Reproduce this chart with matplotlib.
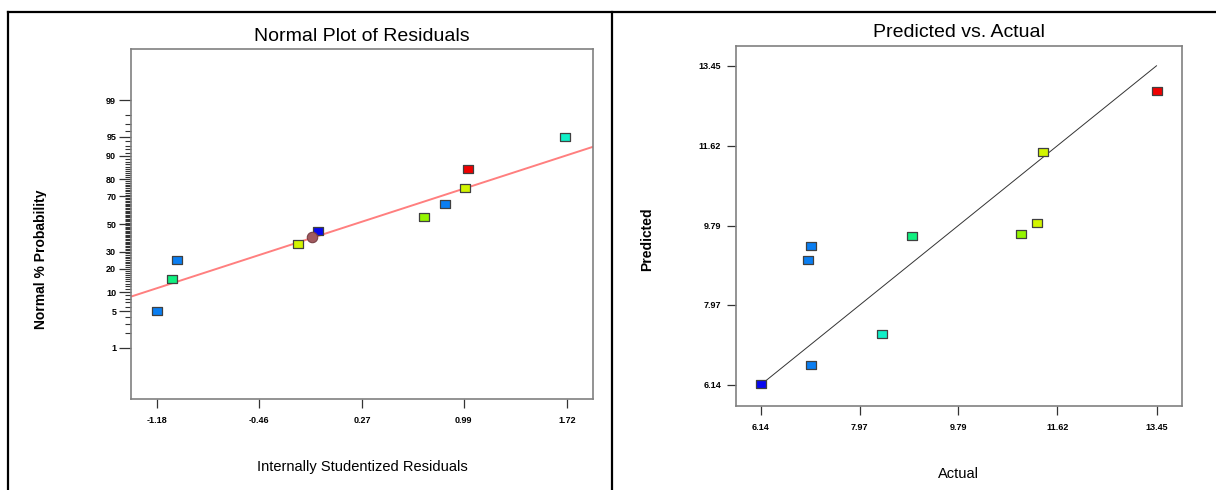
import numpy as np
import matplotlib
matplotlib.use("Agg")
import matplotlib.pyplot as plt
from matplotlib.lines import Line2D
from matplotlib.transforms import Bbox, TransformedBbox
from statistics import NormalDist

plt.rcParams["font.family"] = ["Liberation Sans", "DejaVu Sans"]

# normal plot of residuals
residuals = [-1.18, -1.076, -1.04, -0.184, -0.044, 0.71, 0.861, 1.001, 1.017, 1.706]
normal_pct = [5, 15, 25, 35, 45, 55, 65, 75, 85, 95]
residual_colors = ["#0a7ef2", "#10f080", "#0a7ef2", "#d2f500", "#0808f0",
                   "#94f500", "#0a7ef2", "#d2f500", "#f00000", "#10f0c8"]
center_point = (-0.083, 40)
fit_intercept = -0.19
fit_slope = 0.862
x_ticks_left = [-1.18, -0.46, 0.27, 0.99, 1.72]
y_ticks_pct = [1, 5, 10, 20, 30, 50, 70, 80, 90, 95, 99]

# predicted vs actual
actual = [6.14, 7.075, 7.075, 7.011, 8.374, 8.924, 10.944, 11.244, 11.344, 13.45]
predicted = [6.155, 6.583, 9.31, 8.989, 7.293, 9.547, 9.60, 9.845, 11.472, 12.877]
pred_colors = ["#0808f0", "#0a7ef2", "#0a7ef2", "#0a7ef2", "#10f0c8",
               "#10f080", "#94f500", "#d2f500", "#d2f500", "#f00000"]
pa_ticks = [6.14, 7.97, 9.79, 11.62, 13.45]

nd = NormalDist()


def z(p):
    return nd.inv_cdf(p / 100.0)


box = [(-1, -0.8), (1, -0.8), (1, 0.8), (-1, 0.8), (-1, -0.8)]
spine_col = "#808080"
W, H = 1216, 490

fig = plt.figure(figsize=(12.16, 4.90), dpi=100)

# ---- left panel ----
ax1 = fig.add_axes([0.1081, 0.1857, 0.3796, 0.7143])
zmax = z(99.95)
ax1.set_xlim(-1.36, 1.905)
ax1.set_ylim(-zmax, zmax)
ax1.axline((0, fit_intercept), slope=fit_slope, color="#ff7f7f", lw=1.4, zorder=2)
for xv, pv, c in zip(residuals, normal_pct, residual_colors):
    ax1.plot(xv, z(pv), marker=box, ms=7.5, mfc=c, mec="#404040", mew=0.9, ls="none", zorder=3)
ax1.plot(center_point[0], z(center_point[1]), "o", ms=7.5, mfc="#a05a5f", mec="#7a4045",
         mew=0.8, zorder=4)
ax1.set_xticks(x_ticks_left)
ax1.set_xticklabels([f"{v:.2f}" for v in x_ticks_left])
ax1.set_yticks([z(p) for p in y_ticks_pct])
ax1.set_yticklabels([str(p) for p in y_ticks_pct])
ax1.set_yticks([z(p) for p in range(1, 100)], minor=True)
ax1.tick_params(axis="y", which="major", length=9, width=0.9, color="#333333",
                labelsize=6.5, pad=2)
ax1.tick_params(axis="y", which="minor", length=4.5, width=0.8, color="#333333")
ax1.tick_params(axis="x", length=6.5, width=0.9, color="#333333", labelsize=6.5, pad=6)
ax1.set_title("Normal Plot of Residuals", fontsize=14, pad=6)
ax1.set_xlabel("Internally Studentized Residuals", fontsize=10.5, labelpad=25)

# ---- right panel ----
ax2 = fig.add_axes([0.605, 0.172, 0.367, 0.7347])
ax2.set_xlim(5.676, 13.92)
ax2.set_ylim(5.66, 13.91)
ax2.plot([pa_ticks[0], pa_ticks[-1]], [pa_ticks[0], pa_ticks[-1]], color="#333333",
         lw=0.7, zorder=2)
for xv, yv, c in zip(actual, predicted, pred_colors):
    ax2.plot(xv, yv, marker=box, ms=7.5, mfc=c, mec="#404040", mew=0.9, ls="none", zorder=3)
ax2.set_xticks(pa_ticks)
ax2.set_xticklabels([f"{v:.2f}" for v in pa_ticks])
ax2.set_yticks(pa_ticks)
ax2.set_yticklabels([f"{v:.2f}" for v in pa_ticks])
ax2.tick_params(axis="both", length=6.5, width=0.9, color="#333333", labelsize=6.5, pad=4)
ax2.tick_params(axis="x", pad=6)
ax2.set_title("Predicted vs. Actual", fontsize=14, pad=6)
ax2.set_xlabel("Actual", fontsize=10.5, labelpad=25)

for ax in (ax1, ax2):
    for s in ax.spines.values():
        s.set_color(spine_col)
        s.set_linewidth(1.2)
    for lab in ax.get_xticklabels() + ax.get_yticklabels():
        lab.set_fontweight("bold")

# y labels, cut at the baseline like in the source image
for txt, xb, yc, x0 in [("Normal % Probability", 45.5, 259, 0),
                        ("Predicted", 651, 239.5, 612)]:
    t = fig.text(xb / W, 1 - yc / H, txt, rotation=90, rotation_mode="anchor",
                 fontsize=10, fontweight="bold", ha="center", va="baseline")
    t.set_clip_box(TransformedBbox(Bbox([[x0 / W, 0], [xb / W, 1]]), fig.transFigure))
    t.set_clip_on(True)

# outer frame
top = 1 - 12 / H
fig.add_artist(Line2D([8 / W, 1], [top, top], color="black", lw=1.6))
fig.add_artist(Line2D([8 / W, 8 / W], [0, top], color="black", lw=1.6))
fig.add_artist(Line2D([612 / W, 612 / W], [0, top], color="black", lw=1.6))

fig.savefig("out.png", dpi=100)
plt.close(fig)
